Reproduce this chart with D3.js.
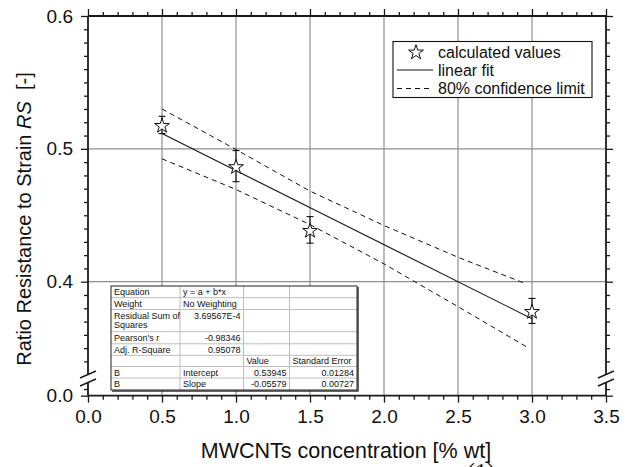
<!DOCTYPE html>
<html><head><meta charset="utf-8">
<script src="https://cdn.jsdelivr.net/npm/d3@7"></script>
<style>
body{margin:0;background:#fff}
text{font-family:"Liberation Sans",Arial,sans-serif;fill:#111}
</style>
</head><body><svg id="c" width="627" height="467"></svg>
<script>
// ---- data ----
const concentration = [0.5, 1.0, 1.5, 3.0];
const ratioRS       = [0.518, 0.487, 0.439, 0.378];
const ratioErr      = [0.0065, 0.0117, 0.0100, 0.0094];
const fitX = [0.5, 3.0];
const fitY = [0.5116, 0.3721];
const bandX     = [0.5, 1.0, 1.5, 2.0, 2.5, 2.96];
const bandUpper = [0.5300, 0.4995, 0.4682, 0.4423, 0.4184, 0.3984];
const bandLower = [0.4925, 0.4694, 0.4430, 0.4134, 0.3812, 0.3512];
const xMajorTicks = [0, 0.5, 1.0, 1.5, 2.0, 2.5, 3.0, 3.5];
const xTickLabels = ["0.0","0.5","1.0","1.5","2.0","2.5","3.0","3.5"];
const yMajorTicks = [0.4, 0.5, 0.6];
const yTickLabels = ["0.4","0.5","0.6"];
const yLowTicks = [0];
const yLowLabels = ["0.0"];
const legendLabels = ["calculated values","linear fit","80% confidence limit"];
const tableRows = [
  ["Equation","y = a + b*x","",""],
  ["Weight","No Weighting","",""],
  ["Residual Sum of\nSquares","3.69567E-4","",""],
  ["Pearson's r","-0.98346","",""],
  ["Adj. R-Square","0.95078","",""],
  ["","","Value","Standard Error"],
  ["B","Intercept","0.53945","0.01284"],
  ["B","Slope","-0.05579","0.00727"]
];

// ---- layout ----
const svg = d3.select("#c");
svg.append("rect").attr("width",627).attr("height",467).attr("fill","#fff");
const L=88, R=606, T=16, B=395.7;
const x = d3.scaleLinear([0,3.5],[L,R]);
const y = d3.scaleLinear([0.4,0.6],[281.7,T]);
const yLow = d3.scaleLinear([0,0.01],[B,382.4]);
const breakTop = 375, breakBot = 382;

const axisCol = "#1a1a1a";
const gridCol = "#8f8f8f";

// grid
const g = svg.append("g");
g.selectAll("line.vg").data(xMajorTicks.filter(d=>d>0&&d<3.5)).join("line")
  .attr("x1",d=>x(d)).attr("x2",d=>x(d)).attr("y1",T).attr("y2",B)
  .attr("stroke",gridCol).attr("stroke-width",1.2);
g.selectAll("line.hg").data([0.4,0.5]).join("line")
  .attr("x1",L).attr("x2",R).attr("y1",d=>y(d)).attr("y2",d=>y(d))
  .attr("stroke",gridCol).attr("stroke-width",1.2);

// minor ticks
const xMinor = d3.range(0,36).map(i=>i/10).filter(v=>Math.abs(v*2-Math.round(v*2))>1e-6);
const yMinor = d3.range(34,61).map(i=>i/100).filter(v=>Math.abs(v*10-Math.round(v*10))>1e-6);

function styleAxis(sel){
  sel.select(".domain").remove();
  sel.selectAll(".tick line").attr("stroke",axisCol).attr("stroke-width",1.3);
  sel.selectAll("text").attr("font-size",19).attr("fill","#111")
     .style("font-family","'Liberation Sans',Arial,sans-serif");
}
// bottom
const bx = svg.append("g").attr("transform",`translate(0,${B})`)
  .call(d3.axisBottom(x).tickValues(xMajorTicks).tickSize(7).tickPadding(8)
        .tickFormat((d,i)=>xTickLabels[i]));
styleAxis(bx);
bx.selectAll("text").attr("dy","0.71em").attr("y",14);
svg.append("g").attr("transform",`translate(0,${B})`)
  .call(d3.axisBottom(x).tickValues(xMinor).tickSize(4).tickFormat(""))
  .call(styleAxis);
// top
svg.append("g").attr("transform",`translate(0,${T})`)
  .call(d3.axisTop(x).tickValues(xMajorTicks).tickSize(7).tickFormat("")).call(styleAxis);
svg.append("g").attr("transform",`translate(0,${T})`)
  .call(d3.axisTop(x).tickValues(xMinor).tickSize(4).tickFormat("")).call(styleAxis);
// left
const ly = svg.append("g").attr("transform",`translate(${L},0)`)
  .call(d3.axisLeft(y).tickValues(yMajorTicks).tickSize(7).tickPadding(8)
        .tickFormat((d,i)=>yTickLabels[i]));
styleAxis(ly);
svg.append("g").attr("transform",`translate(${L},0)`)
  .call(d3.axisLeft(y).tickValues(yMinor).tickSize(4).tickFormat("")).call(styleAxis);
const lyl = svg.append("g").attr("transform",`translate(${L},0)`)
  .call(d3.axisLeft(yLow).tickValues(yLowTicks).tickSize(7).tickPadding(8)
        .tickFormat((d,i)=>yLowLabels[i]));
styleAxis(lyl);
svg.append("g").attr("transform",`translate(${L},0)`)
  .call(d3.axisLeft(yLow).tickValues([0.005]).tickSize(4).tickFormat("")).call(styleAxis);
// right
svg.append("g").attr("transform",`translate(${R},0)`)
  .call(d3.axisRight(y).tickValues(yMajorTicks).tickSize(7).tickFormat("")).call(styleAxis);
svg.append("g").attr("transform",`translate(${R},0)`)
  .call(d3.axisRight(y).tickValues(yMinor).tickSize(4).tickFormat("")).call(styleAxis);
svg.append("g").attr("transform",`translate(${R},0)`)
  .call(d3.axisRight(yLow).tickValues(yLowTicks).tickSize(7).tickFormat("")).call(styleAxis);
svg.append("g").attr("transform",`translate(${R},0)`)
  .call(d3.axisRight(yLow).tickValues([0.005]).tickSize(4).tickFormat("")).call(styleAxis);

// frame lines
const fr = svg.append("g").attr("stroke",axisCol).attr("stroke-width",1.8).attr("fill","none");
fr.append("line").attr("x1",L).attr("x2",R).attr("y1",T).attr("y2",T);
fr.append("line").attr("x1",L).attr("x2",R).attr("y1",B).attr("y2",B);
[L,R].forEach(xx=>{
  fr.append("line").attr("x1",xx).attr("x2",xx).attr("y1",T).attr("y2",breakTop);
  fr.append("line").attr("x1",xx).attr("x2",xx).attr("y1",breakBot).attr("y2",B);
  fr.append("line").attr("x1",xx-8).attr("x2",xx+8).attr("y1",breakTop+3).attr("y2",breakTop-4).attr("stroke-width",1.4);
  fr.append("line").attr("x1",xx-8).attr("x2",xx+8).attr("y1",breakBot+4).attr("y2",breakBot-3).attr("stroke-width",1.4);
});

// confidence band & fit
const line = d3.line().x(d=>x(d[0])).y(d=>y(d[1]));
svg.append("path").datum(d3.zip(bandX,bandUpper)).attr("d",line)
  .attr("fill","none").attr("stroke","#111").attr("stroke-width",1).attr("stroke-dasharray","5,4");
svg.append("path").datum(d3.zip(bandX,bandLower)).attr("d",line)
  .attr("fill","none").attr("stroke","#111").attr("stroke-width",1).attr("stroke-dasharray","5,4");
svg.append("path").datum(d3.zip(fitX,fitY)).attr("d",line)
  .attr("fill","none").attr("stroke","#111").attr("stroke-width",1.1);

// error bars
const pts = d3.zip(concentration,ratioRS,ratioErr);
const eb = svg.append("g").attr("stroke","#111").attr("stroke-width",1.1);
pts.forEach(([cx,cy,e])=>{
  eb.append("line").attr("x1",x(cx)).attr("x2",x(cx)).attr("y1",y(cy+e)).attr("y2",y(cy-e));
  eb.append("line").attr("x1",x(cx)-3.5).attr("x2",x(cx)+3.5).attr("y1",y(cy+e)).attr("y2",y(cy+e));
  eb.append("line").attr("x1",x(cx)-3.5).attr("x2",x(cx)+3.5).attr("y1",y(cy-e)).attr("y2",y(cy-e));
});
// stars
const star = d3.symbol().type(d3.symbolStar).size(68);
svg.selectAll("path.star").data(pts).join("path")
  .attr("d",star).attr("transform",d=>`translate(${x(d[0])},${y(d[1])+1})`)
  .attr("fill","#fff").attr("stroke","#111").attr("stroke-width",1);

// legend
const lg = svg.append("g");
lg.append("rect").attr("x",393).attr("y",41.5).attr("width",199).attr("height",56)
  .attr("fill","#fff").attr("stroke","#111").attr("stroke-width",1.1);
lg.append("path").attr("d",star).attr("transform","translate(416,52.5)")
  .attr("fill","#fff").attr("stroke","#111").attr("stroke-width",1);
lg.append("line").attr("x1",397).attr("x2",433).attr("y1",70).attr("y2",70).attr("stroke","#111").attr("stroke-width",1);
lg.append("line").attr("x1",397).attr("x2",433).attr("y1",88.5).attr("y2",88.5).attr("stroke","#111").attr("stroke-width",1).attr("stroke-dasharray","5,4");
lg.selectAll("text").data(legendLabels).join("text")
  .attr("x",438).attr("y",(d,i)=>58+i*18).attr("font-size",16).text(d=>d);

// stats table
const colX=[111,180,243.5,289.5,357];
const rowY=[286,297.7,309.5,331.7,343.8,355.3,366.5,378,390];
const tb = svg.append("g");
tb.append("rect").attr("x",colX[0]).attr("y",rowY[0]).attr("width",colX[4]-colX[0]).attr("height",rowY[8]-rowY[0])
  .attr("fill","#fff");
rowY.slice(1,-1).forEach(yy=>tb.append("line").attr("x1",colX[0]).attr("x2",colX[4]).attr("y1",yy).attr("y2",yy).attr("stroke","#bdbdbd").attr("stroke-width",1));
colX.slice(1,-1).forEach(xx=>tb.append("line").attr("x1",xx).attr("x2",xx).attr("y1",rowY[0]).attr("y2",rowY[8]).attr("stroke","#bdbdbd").attr("stroke-width",1));
tb.append("rect").attr("x",colX[0]).attr("y",rowY[0]).attr("width",colX[4]-colX[0]).attr("height",rowY[8]-rowY[0])
  .attr("fill","none").attr("stroke","#222").attr("stroke-width",1);
tb.append("line").attr("x1",colX[0]+1).attr("x2",colX[4]+1).attr("y1",rowY[8]+1).attr("y2",rowY[8]+1).attr("stroke","#333").attr("stroke-width",1.5);
tb.append("line").attr("x1",colX[4]+1).attr("x2",colX[4]+1).attr("y1",rowY[0]+1).attr("y2",rowY[8]+1.5).attr("stroke","#333").attr("stroke-width",1.5);
const isNum = s=>/^-?[0-9.]+(E-?\d+)?$/.test(s);
tableRows.forEach((row,ri)=>{
  const top=rowY[ri], h=rowY[ri+1]-rowY[ri];
  row.forEach((cell,ci)=>{
    if(!cell) return;
    const lines = cell.split("\n");
    const num = isNum(cell);
    const t = tb.append("text").attr("font-size",9).attr("fill","#222")
      .attr("text-anchor",num?"end":"start");
    const tx = num ? colX[ci+1]-3 : colX[ci]+3;
    const base = ri===2 ? top+9 : top+h/2+3.3;
    lines.forEach((ln,li)=>t.append("tspan").attr("x",tx).attr("y",base+li*9.5).text(ln));
  });
});

// axis titles
svg.append("text").attr("x",346).attr("y",458).attr("text-anchor","middle")
  .attr("font-size",21.5).text("MWCNTs concentration [% wt]");
const yt = svg.append("text").attr("transform","translate(31,219) rotate(-90)")
  .attr("text-anchor","middle").attr("font-size",20).style("white-space","pre");
yt.append("tspan").text("Ratio Resistance to Strain ");
yt.append("tspan").attr("font-style","italic").text("RS");
yt.append("tspan").text("  [-]");

// cut-off equation label at bottom
svg.append("text").attr("x",481).attr("y",479).attr("text-anchor","middle")
  .attr("font-size",24).style("font-family","'Liberation Serif',serif").text("(1)");
</script>
</body></html>
